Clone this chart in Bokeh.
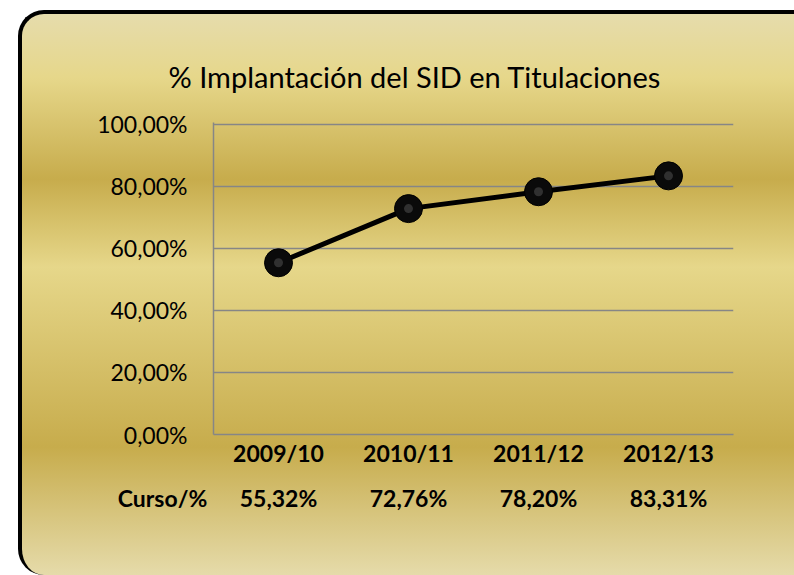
from bokeh.plotting import figure
from bokeh.layouts import column
from bokeh.models import (ColumnDataSource, Range1d, FixedTicker, FactorRange)
from bokeh.core.properties import value
from bokeh.embed import file_html
from bokeh.resources import INLINE

# ---- data ----
cursos = ["2009/10", "2010/11", "2011/12", "2012/13"]
porcentajes = [55.32, 72.76, 78.20, 83.31]
etiquetas_valor = ["55,32%", "72,76%", "78,20%", "83,31%"]
y_ticks = [0, 20, 40, 60, 80, 100]
y_tick_labels = ["0,00%", "20,00%", "40,00%", "60,00%", "80,00%", "100,00%"]
titulo = "% Implantación del SID en Titulaciones"
cabecera_tabla = "Curso/%"

FONT = "Lato"
GRID = "#868686"

source = ColumnDataSource(data=dict(curso=cursos, pct=porcentajes))

# ---------------- main chart ----------------
p = figure(width=772, height=461, x_range=cursos, y_range=Range1d(0, 100.5),
           output_backend="svg", toolbar_location=None,
           min_border_left=191, min_border_right=61,
           min_border_top=108, min_border_bottom=41)
p.border_fill_alpha = 0
p.background_fill_alpha = 0
p.outline_line_color = None

p.title.text = titulo
p.title.align = "left"
p.title.offset = -45
p.title.standoff = 57
p.title.text_font = FONT
p.title.text_font_size = "29px"
p.title.text_font_style = "normal"
p.title.text_color = "#000000"

p.xgrid.grid_line_color = None
p.ygrid.grid_line_color = GRID
p.ygrid.grid_line_width = 1.5
p.yaxis.ticker = FixedTicker(ticks=y_ticks)
p.yaxis.major_label_overrides = {t: l for t, l in zip(y_ticks, y_tick_labels)}

for ax in (p.xaxis[0], p.yaxis[0]):
    ax.axis_line_color = GRID
    ax.axis_line_width = 1.5
    ax.major_tick_line_color = None
    ax.minor_tick_line_color = None
    ax.major_tick_out = 0
    ax.major_tick_in = 0
    ax.major_label_text_font = FONT
    ax.major_label_text_font_size = "23px"
    ax.major_label_text_color = "#000000"

p.yaxis.major_label_standoff = 26
p.xaxis.major_label_standoff = 4
p.xaxis.major_label_text_font_style = "bold"

p.line("curso", "pct", source=source, line_color="#000000", line_width=5)
p.scatter("curso", "pct", source=source, size=28, fill_color="#0a0a0a",
          line_color="#000000", line_width=1)
p.scatter("curso", "pct", source=source, size=9, fill_color="#4a4a4a",
          fill_alpha=0.6, line_color=None)

# ---------------- data table row ----------------
tabla_src = ColumnDataSource(data=dict(
    col=[cabecera_tabla] + cursos,
    txt=[cabecera_tabla] + etiquetas_valor,
    dx=[14, 0, 0, 0, 0],
))
t = figure(width=772, height=100, x_range=FactorRange(factors=[cabecera_tabla] + cursos),
           y_range=Range1d(0, 1), output_backend="svg", toolbar_location=None,
           x_axis_type=None, y_axis_type=None,
           min_border_left=61, min_border_right=61, min_border_top=0, min_border_bottom=56)
t.frame_align = False
t.border_fill_alpha = 0
t.background_fill_alpha = 0
t.outline_line_color = None
t.grid.visible = False
t.text(x="col", y=0.5, text="txt", x_offset="dx", source=tabla_src,
       text_font=value(FONT), text_font_size=value("23px"), text_font_style="bold",
       text_align="center", text_baseline="middle", text_color="#000000")

layout = column(p, t, spacing=0, styles={
    "margin-left": "18px",
    "margin-top": "10px",
    "border-left": "4px solid #000",
    "border-top": "4px solid #000",
    "border-top-left-radius": "26px",
    "border-bottom-left-radius": "26px",
    "background": "linear-gradient(to bottom, #E6DCAC 0px, #E6D78A 64px, #C7AC4C 165px, "
                  "#E6D78A 253px, #C7AC4C 433px, #E6DCAC 564px)",
})

open("out.html", "w").write(file_html(layout, INLINE))
